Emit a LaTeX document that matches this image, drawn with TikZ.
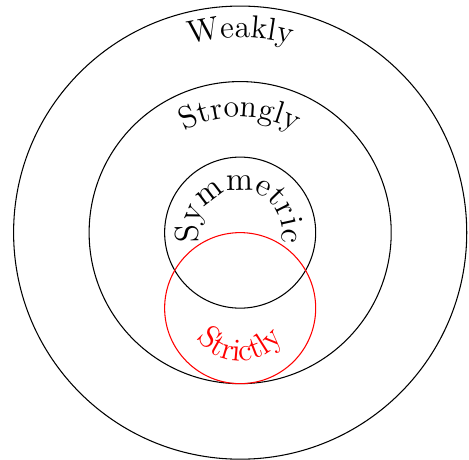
\documentclass[tikz,border=0pt]{standalone}
\usetikzlibrary{decorations.text,calc}
\begin{document}
\begin{tikzpicture}[
  ring/.style={draw=black, line width=0.4pt},
  redring/.style={draw=red, line width=0.4pt},
  curved/.style={decorate, decoration={text along path, text align=center, text format delimiters={|}{|}, text={#1}}}
]
\useasboundingbox (-3.18,-3.0) rectangle (3.03,3.08);
\node[circle, ring, minimum size=6cm, inner sep=0pt] (weak) at (0,0) {};
\node[circle, ring, minimum size=4cm, inner sep=0pt] (strong) at (0,0) {};
\node[circle, ring, minimum size=2cm, inner sep=0pt] (sym) at (0,0) {};
\node[circle, redring, minimum size=2cm, inner sep=0pt] (strict) at (0,-1) {};
\path[curved={|\fontsize{12}{14}\selectfont|Weakly}] (180:2.58) arc (180:0:2.58);
\path[curved={|\fontsize{12}{14}\selectfont|Strongly}] (180:1.53) arc (180:0:1.53);
\path[curved={|\fontsize{12.5}{14}\selectfont|Symmetric}] (200:0.56) arc (200:-20:0.56);
\path[curved={|\fontsize{12}{14}\selectfont\color{red}|Strictly}] ($(0,-1)+(200:0.70)$) arc (200:340:0.70);
\end{tikzpicture}
\end{document}
